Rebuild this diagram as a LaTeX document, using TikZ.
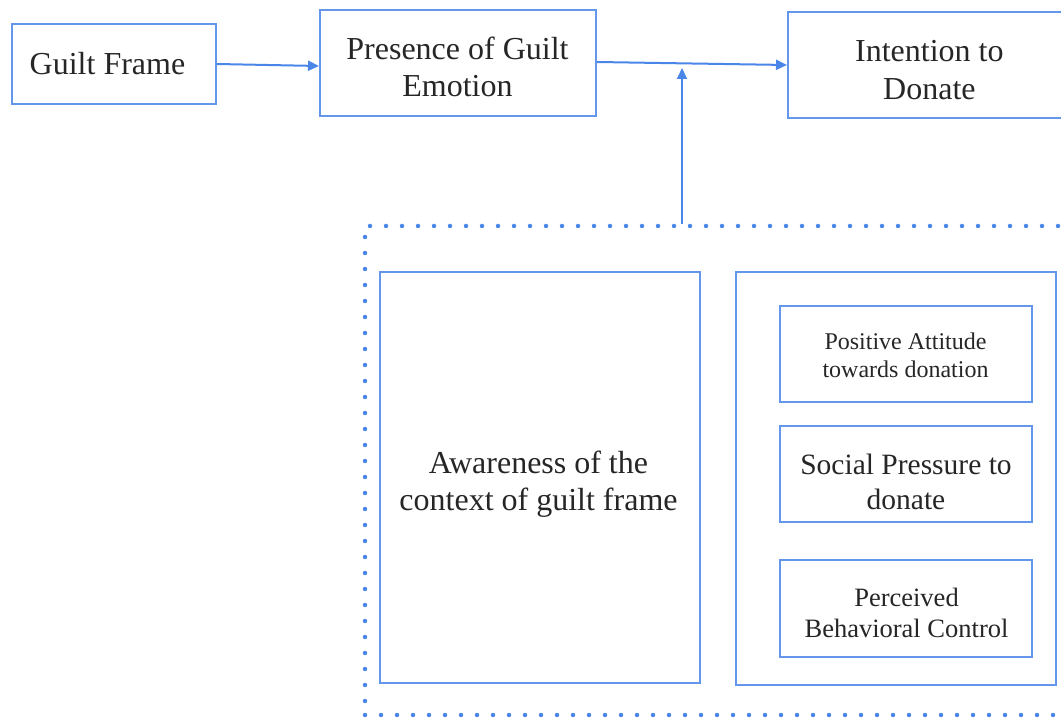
\documentclass[tikz,border=0pt]{standalone}
\usepackage{fontspec}
\setmainfont{Liberation Serif}
\usetikzlibrary{arrows.meta}
\definecolor{boxblue}{RGB}{100,150,235}
\definecolor{arrblue}{RGB}{74,134,232}
\definecolor{ink}{RGB}{38,38,38}
% centred lines whose reference point is the baseline of the first line
\newcommand\boxlines[1]{\begin{tabular}[t]{@{}c@{}}#1\end{tabular}}
\tikzset{
  blk/.style={draw=boxblue, line width=2pt, rectangle, inner sep=0pt},
  txt/.style={anchor=base, inner sep=0pt, text=ink},
  arr/.style={draw=arrblue, line width=2pt,
    -{Triangle[length=11pt,width=10pt]}},
  dotframe/.style={draw=arrblue, line width=4.5pt, line cap=round,
    dash pattern=on 0pt off 16pt, rectangle, inner sep=0pt}
}
\begin{document}
\begin{tikzpicture}[x=1pt,y=-1pt]
\useasboundingbox (0,0) rectangle (1061,719);
\clip (0,0) rectangle (1061,719);
% top row
\node[blk, minimum width=204pt, minimum height=80pt] (gf) at (114,64) {};
\node[blk, minimum width=276pt, minimum height=106pt] (pe) at (458,63) {};
\node[blk, minimum width=282pt, minimum height=106pt] (id) at (929,65) {};
\node[txt, font=\fontsize{32}{37}\selectfont] (gf-t) at (107.5,75) {Guilt Frame};
\node[txt, font=\fontsize{32}{37}\selectfont] (pe-t) at (457.5,59.7) {\boxlines{Presence of Guilt\\Emotion}};
\node[txt, font=\fontsize{32}{37.3}\selectfont] (id-t) at (929.4,62) {\boxlines{Intention to\\Donate}};
% dotted context frame
\node[dotframe, minimum width=710pt, minimum height=489pt] (ctx) at (720,470.5) {};
% inner boxes
\node[blk, minimum width=320pt, minimum height=411pt] (aw) at (540,477.5) {};
\node[blk, minimum width=320pt, minimum height=413pt] (tpb) at (896,478.5) {};
\node[blk, minimum width=252pt, minimum height=96pt] (pa) at (906,354) {};
\node[blk, minimum width=252pt, minimum height=96pt] (sp) at (906,474) {};
\node[blk, minimum width=252pt, minimum height=97pt] (pb) at (906,608.5) {};
\node[txt, font=\fontsize{32}{36.5}\selectfont] (aw-t) at (538.5,473.5) {\boxlines{Awareness of the\\context of guilt frame}};
\node[txt, font=\fontsize{24}{27.6}\selectfont] (pa-t) at (905.5,349.5) {\boxlines{Positive Attitude\\towards donation}};
\node[txt, font=\fontsize{29.5}{35.8}\selectfont] (sp-t) at (906,474) {\boxlines{Social Pressure to\\donate}};
\node[txt, font=\fontsize{26.5}{31}\selectfont] (pb-t) at (906.5,606) {\boxlines{Perceived\\Behavioral Control}};
% connectors
\coordinate (join) at (682,68);
\draw[arr] (gf.east) -- ([yshift=-3pt]pe.west);
\draw[arr] ([yshift=1pt]pe.east) -- (id.west);
\draw[arr] (ctx.north -| join) -- (join);
\end{tikzpicture}
\end{document}
